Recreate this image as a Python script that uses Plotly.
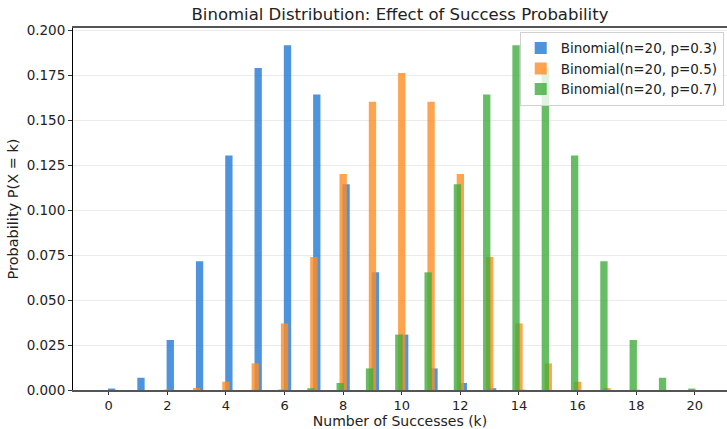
import plotly.graph_objects as go

k_values = list(range(21))
p03 = [0.0008, 0.0068, 0.0278, 0.0716, 0.1304, 0.1789, 0.1916, 0.1643, 0.1144, 0.0654, 0.0308,
       0.0120, 0.0039, 0.0010, 0.0002, 0.00004, 0.0, 0.0, 0.0, 0.0, 0.0]
p05 = [0.0, 0.00002, 0.0002, 0.0011, 0.0046, 0.0148, 0.0370, 0.0739, 0.1201, 0.1602, 0.1762,
       0.1602, 0.1201, 0.0739, 0.0370, 0.0148, 0.0046, 0.0011, 0.0002, 0.00002, 0.0]
p07 = list(reversed(p03))
series_names = ["Binomial(n=20, p=0.3)", "Binomial(n=20, p=0.5)", "Binomial(n=20, p=0.7)"]
x_ticks = list(range(0, 21, 2))

offsets = [0.1, 0.0, -0.1]
colors = ["rgba(34,121,211,0.8)", "rgba(255,140,34,0.8)", "rgba(64,172,60,0.8)"]

fig = go.Figure()
for name, vals, off, col in zip(series_names, [p03, p05, p07], offsets, colors):
    fig.add_trace(go.Bar(
        x=[k + off for k in k_values], y=vals, name=name, width=0.25,
        marker=dict(color=col, line=dict(width=0)),
    ))

font = "DejaVu Sans, Verdana, sans-serif"
fig.update_layout(
    width=727, height=429,
    margin=dict(l=73, r=0, t=28, b=39),
    barmode="overlay",
    plot_bgcolor="white", paper_bgcolor="white",
    font=dict(family=font, size=13.5, color="#222"),
    title=dict(text="Binomial Distribution: Effect of Success Probability",
               x=0.5, xref="paper", xanchor="center", y=0.967, yanchor="middle",
               font=dict(size=16.5, color="#222")),
    legend=dict(x=0.995, y=0.99, xanchor="right", yanchor="top",
                bgcolor="rgba(255,255,255,0.8)", bordercolor="#d0d0d0", borderwidth=1,
                font=dict(size=13.5), itemwidth=30, tracegroupgap=0),
    showlegend=True,
)
fig.update_xaxes(
    range=[-1.22, 21.1], tickmode="array", tickvals=x_ticks, ticktext=[str(t) for t in x_ticks],
    showgrid=False, zeroline=False, showline=True, linecolor="#555", linewidth=1.5, mirror=True,
    ticks="outside", ticklen=3, tickcolor="#333", automargin=False,
    tickfont=dict(size=13),
    title=dict(text="Number of Successes (k)", standoff=3, font=dict(size=14)),
)
fig.update_yaxes(
    range=[0, 0.2012], tick0=0, dtick=0.025, tickformat=".3f",
    showgrid=True, gridcolor="#ebebeb", gridwidth=1, zeroline=False,
    showline=True, linecolor="black", linewidth=1, automargin=False,
    ticks="outside", ticklen=4, tickcolor="#333",
    title=dict(text="Probability P(X = k)", standoff=4, font=dict(size=14.5)),
)
fig.write_html("out.html")
